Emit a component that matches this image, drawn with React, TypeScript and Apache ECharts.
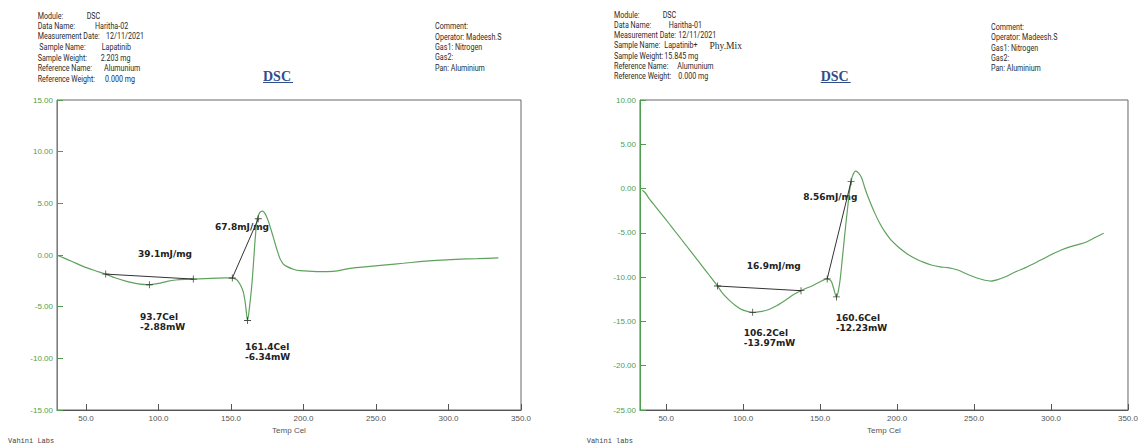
import React, { useEffect, useRef } from "react";
import * as echarts from "echarts";

// ---- Lapatinib (Haritha-02) DSC trace ----
const lapTemp = [30.5, 35, 40, 48, 56, 63.6, 70, 78, 86, 93.7, 100, 106, 112, 118, 124, 132, 140, 146, 150.9, 154, 156.5, 158.5, 160, 161.4, 162.8, 164.3, 165.5, 166.6, 168, 169.8, 171.8, 173.5, 175.7, 177.5, 179.2, 181.5, 183.8, 186, 188.4, 193, 197.6, 209, 220.6, 232, 245.9, 257, 268.8, 280, 291.9, 305, 320, 334.4];
const lapHeatFlow = [-0.05, -0.3, -0.6, -1.1, -1.5, -1.85, -2.2, -2.55, -2.8, -2.88, -2.75, -2.55, -2.42, -2.36, -2.33, -2.28, -2.24, -2.22, -2.23, -2.4, -2.9, -3.6, -4.8, -6.34, -5.0, -3.0, -0.8, 1.4, 3.4, 4.1, 4.25, 4.0, 3.3, 2.5, 1.7, 0.6, -0.35, -0.85, -1.1, -1.38, -1.52, -1.6, -1.58, -1.3, -1.1, -0.95, -0.8, -0.65, -0.52, -0.42, -0.35, -0.28];
// analysis points: baseline ends, onset line ends, peaks
const lapBaselineTemp = [63.6, 124];
const lapBaselineFlow = [-1.85, -2.33];
const lapOnsetTemp = [150.9, 168.8];
const lapOnsetFlow = [-2.23, 3.51];
const lapPeakTemp = [93.7, 161.4];
const lapPeakFlow = [-2.88, -6.34];

// ---- Lapatinib + physical mixture (Haritha-01) DSC trace ----
const mixTemp = [34.5, 36.5, 39.2, 45, 52.1, 57, 62.9, 68, 73.6, 78.5, 83.3, 87, 90.9, 95, 99.5, 106.2, 111, 116.7, 122, 127.5, 132.5, 137.6, 141, 144.7, 148, 151.2, 154.6, 156.3, 157.6, 159, 160.6, 161.8, 163, 164.5, 166.3, 168, 169.5, 171, 173.1, 175, 177, 179, 181.3, 185.6, 189, 192, 196, 200.6, 206, 211.4, 217, 222.2, 228, 233, 239.5, 246, 252.4, 257, 261, 265, 269.6, 277, 284.7, 293, 301.9, 307, 312.7, 318, 323.4, 329, 334.2];
const mixHeatFlow = [-0.2, -0.5, -1.2, -2.45, -4.0, -5.1, -6.4, -7.55, -8.8, -9.9, -11.0, -11.9, -12.6, -13.2, -13.7, -13.97, -13.9, -13.65, -13.2, -12.6, -12.0, -11.53, -11.25, -11.0, -10.7, -10.4, -10.2, -10.3, -10.6, -11.4, -12.23, -11.6, -10.3, -7.8, -4.7, -2.0, 0.2, 1.4, 1.98, 1.75, 1.2, 0.1, -1.0, -2.8, -4.0, -4.87, -5.8, -6.56, -7.3, -7.87, -8.3, -8.63, -8.85, -8.92, -9.2, -9.7, -10.13, -10.35, -10.44, -10.3, -10.02, -9.4, -8.82, -8.1, -7.31, -6.9, -6.56, -6.3, -6.0, -5.5, -5.05];
const mixBaselineTemp = [83.3, 137.6];
const mixBaselineFlow = [-11.0, -11.53];
const mixOnsetTemp = [154.6, 170.1];
const mixOnsetFlow = [-10.2, 0.78];
const mixPeakTemp = [106.2, 160.6];
const mixPeakFlow = [-13.97, -12.23];

// axis ticks
const tempTicks = [50, 100, 150, 200, 250, 300, 350];

// annotation texts
const lapEnthalpy = ["39.1mJ/mg", "67.8mJ/mg"];
const mixEnthalpy = ["16.9mJ/mg", "8.56mJ/mg"];

const zip = (a: number[], b: number[]) => a.map((v, i) => [v, b[i]]);

const CURVE = "#5ea25e";
const AXIS_GREEN = "#4f9e4f";
const FRAME = "#666";
const PLUS = "path://M4.4,0H5.6V4.4H10V5.6H5.6V10H4.4V5.6H0V4.4H4.4Z";

const sans = "Liberation Sans, Arial, sans-serif";
const hdr = "Roboto, Liberation Sans, sans-serif";
const ann = "DejaVu Sans, Verdana, sans-serif";

function txt(text: string, x: number, y: number, extra: any = {}, scaleX = 0.84) {
  return {
    type: "text",
    x,
    y,
    scaleX,
    silent: true,
    style: {
      text,
      fontSize: 8.5,
      fontFamily: hdr,
      fill: "#2b2b2b",
      verticalAlign: "middle",
      ...extra,
    },
  };
}

function annot(text: string, x: number, y: number) {
  return txt(
    text,
    x,
    y,
    {
      fontFamily: ann,
      fontWeight: "bold",
      fontSize: 9,
      fill: "#222",
      verticalAlign: "top",
      lineHeight: 10,
    },
    1
  );
}

function xAxis(gridIndex: number, min: number) {
  return {
    gridIndex,
    type: "value",
    min,
    max: 350,
    axisLine: { show: true, onZero: false, lineStyle: { color: "#555", width: 1 } },
    axisTick: { show: true, inside: true, length: 6, customValues: tempTicks, lineStyle: { color: "#555" } },
    axisLabel: {
      customValues: tempTicks,
      formatter: (v: number) => v.toFixed(1),
      fontSize: 8,
      color: "#555",
      margin: 4,
      fontFamily: sans,
    },
    splitLine: { show: false },
    name: "Temp Cel",
    nameLocation: "middle",
    nameGap: 14,
    nameTextStyle: { fontSize: 8, color: "#555", fontFamily: sans },
  };
}

function yAxis(gridIndex: number, min: number, max: number) {
  return {
    gridIndex,
    type: "value",
    min,
    max,
    interval: 5,
    axisLine: { show: true, onZero: false, lineStyle: { color: AXIS_GREEN, width: 1 } },
    axisTick: { show: true, inside: true, length: 6, lineStyle: { color: AXIS_GREEN } },
    axisLabel: {
      formatter: (v: number) => v.toFixed(2),
      fontSize: 8,
      color: AXIS_GREEN,
      margin: 4,
      fontFamily: sans,
    },
    splitLine: { show: false },
  };
}

function traceSeries(idx: number, temp: number[], flow: number[], bT: number[], bF: number[], oT: number[], oF: number[], pT: number[], pF: number[]) {
  return [
    {
      type: "line",
      xAxisIndex: idx,
      yAxisIndex: idx,
      data: zip(temp, flow),
      showSymbol: false,
      smooth: 0.3,
      lineStyle: { color: CURVE, width: 1.2 },
      z: 3,
    },
    {
      type: "line",
      xAxisIndex: idx,
      yAxisIndex: idx,
      data: zip(bT, bF),
      showSymbol: false,
      lineStyle: { color: "#333", width: 1 },
      z: 4,
    },
    {
      type: "line",
      xAxisIndex: idx,
      yAxisIndex: idx,
      data: zip(oT, oF),
      showSymbol: false,
      lineStyle: { color: "#333", width: 1 },
      z: 4,
    },
    {
      type: "scatter",
      xAxisIndex: idx,
      yAxisIndex: idx,
      data: [...zip(bT, bF), ...zip(oT, oF), ...zip(pT, pF)],
      symbol: PLUS,
      symbolSize: 7,
      itemStyle: { color: "#222" },
      z: 5,
    },
  ];
}

export default function App() {
  const ref = useRef<HTMLDivElement>(null);

  useEffect(() => {
    if (!ref.current) return;
    const chart = echarts.init(ref.current, null, { renderer: "svg" });

    const serifTitle = { fontFamily: "Liberation Serif, serif", fontWeight: "bold", fontSize: 14, fill: "#2f4d8c" };
    const mono = { fontFamily: "Liberation Mono, monospace", fontSize: 7, fill: "#444" };

    const graphic: any[] = [
      // left header
      txt("Module:", 37.7, 16), txt("DSC", 86.7, 16),
      txt("Data Name:", 37.7, 26.7), txt("Haritha-02", 95, 26.7),
      txt("Measurement Date:", 37.7, 36.7), txt("12/11/2021", 106, 36.7),
      txt("Sample Name:", 39.3, 47.7), txt("Lapatinib", 101.7, 47.7),
      txt("Sample Weight:", 37.7, 58.3), txt("2.203 mg", 100.7, 58.3),
      txt("Reference Name:", 37.7, 68.7), txt("Alumunium", 104, 68.7),
      txt("Reference Weight:", 37.7, 79), txt("0.000 mg", 105, 79),
      txt("Comment:", 435, 26.7),
      txt("Operator: Madeesh.S", 435, 37.3),
      txt("Gas1: Nitrogen", 435, 47.7),
      txt("Gas2:", 435, 57.7),
      txt("Pan: Aluminium", 435, 68.3),
      txt("DSC", 263, 76, serifTitle, 1),
      { type: "line", silent: true, shape: { x1: 263, y1: 82.5, x2: 293, y2: 82.5 }, style: { stroke: "#2f4d8c", lineWidth: 1 } },

      // right header
      txt("Module:", 614, 15), txt("DSC", 662.7, 15),
      txt("Data Name:", 614, 25), txt("Haritha-01", 668.7, 25),
      txt("Measurement Date:", 614, 35.3), txt("12/11/2021", 678.3, 35.3),
      txt("Sample Name:", 614, 45.7), txt("Lapatinib+", 664.3, 45.7),
      txt("Phy.Mix", 709.5, 45.7, { fontFamily: "Liberation Serif, serif", fontSize: 9.5 }, 1),
      txt("Sample Weight:", 614, 56), txt("15.845 mg", 664.3, 56),
      txt("Reference Name:", 614, 66), txt("Alumunium", 677.3, 66),
      txt("Reference Weight:", 614, 76.3), txt("0.000 mg", 678.3, 76.3),
      txt("Comment:", 991, 27.3),
      txt("Operator: Madeesh.S", 991, 37.7),
      txt("Gas1: Nitrogen", 991, 48),
      txt("Gas2:", 991, 58.3),
      txt("Pan: Aluminium", 991, 68.3),
      txt("DSC", 820.7, 76, serifTitle, 1),
      { type: "line", silent: true, shape: { x1: 820.7, y1: 82.5, x2: 850.7, y2: 82.5 }, style: { stroke: "#2f4d8c", lineWidth: 1 } },

      // annotations, left trace
      annot(lapEnthalpy[0], 138, 249),
      annot(lapEnthalpy[1], 215, 222),
      annot(`${lapPeakTemp[0]}Cel\n${lapPeakFlow[0].toFixed(2)}mW`, 140, 311.5),
      annot(`${lapPeakTemp[1]}Cel\n${lapPeakFlow[1].toFixed(2)}mW`, 245, 342),
      // annotations, right trace
      annot(mixEnthalpy[0], 746.7, 261),
      annot(mixEnthalpy[1], 803.3, 192.3),
      annot(`${mixPeakTemp[1]}Cel\n${mixPeakFlow[1].toFixed(2)}mW`, 835.7, 313),
      annot(`${mixPeakTemp[0]}Cel\n${mixPeakFlow[0].toFixed(2)}mW`, 743.7, 328),

      // footers
      txt("Vahini Labs", 8, 441, mono, 1),
      txt("Vahini labs", 586.7, 441, mono, 1),
    ];

    chart.setOption({
      animation: false,
      backgroundColor: "#fff",
      grid: [
        { left: 57, top: 100, width: 464, height: 310, show: true, borderColor: FRAME, borderWidth: 1, backgroundColor: "transparent" },
        { left: 640, top: 100, width: 492, height: 310, show: true, borderColor: FRAME, borderWidth: 1, backgroundColor: "transparent" },
      ],
      xAxis: [xAxis(0, 30), xAxis(1, 33)],
      yAxis: [yAxis(0, -15, 15), yAxis(1, -25, 10)],
      series: [
        ...traceSeries(0, lapTemp, lapHeatFlow, lapBaselineTemp, lapBaselineFlow, lapOnsetTemp, lapOnsetFlow, lapPeakTemp, lapPeakFlow),
        ...traceSeries(1, mixTemp, mixHeatFlow, mixBaselineTemp, mixBaselineFlow, mixOnsetTemp, mixOnsetFlow, mixPeakTemp, mixPeakFlow),
      ],
      graphic,
    } as any);

    return () => chart.dispose();
  }, []);

  return (
    <div
      ref={ref}
      style={{ position: "absolute", left: 0, top: 0, width: 1141, height: 445, background: "#fff" }}
    />
  );
}
